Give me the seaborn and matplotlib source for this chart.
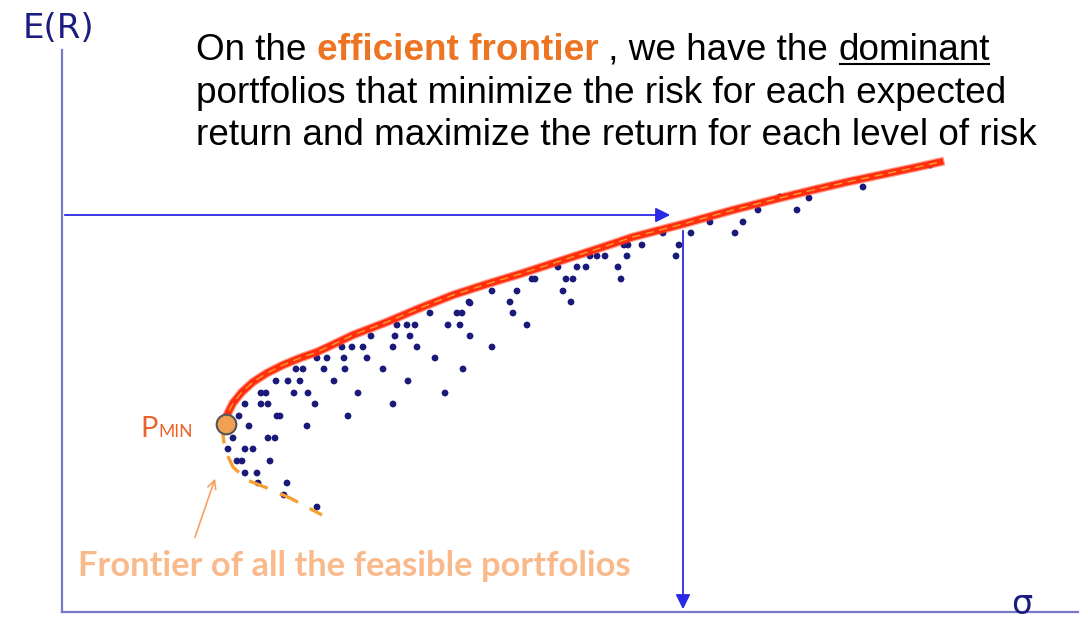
import numpy as np
import pandas as pd
import matplotlib
matplotlib.use("Agg")
import matplotlib.pyplot as plt
import seaborn as sns

# schematic in screen-like units (sigma to the right, E(R) on an inverted axis)
front_sigma = [226, 227, 233, 242, 253, 267, 283, 300, 317, 330, 353, 387, 420, 453,
               487, 520, 560, 600, 633, 683, 733, 780, 813, 847, 880, 913, 940]
front_ret = [424, 415, 403, 392, 382, 373, 365, 358, 352, 346, 335, 322, 308, 295,
             284, 274, 261, 248, 237, 224, 210, 198, 190, 182, 175, 168, 162]

lower_sigma = [226, 223, 225, 233, 247, 267, 290, 322]
lower_ret = [424, 435, 450, 467, 480, 488, 498, 515]

pts_sigma = [470, 457, 462, 430, 448, 460, 470, 415, 407, 397, 395, 410, 371, 417, 393,
             363, 352, 342, 435, 367, 344, 327, 317, 463, 383, 345, 324, 303, 296, 408,
             334, 300, 288, 276, 445, 358, 308, 294, 266, 261, 393, 315, 268, 261, 245,
             348, 280, 277, 239, 307, 249, 275, 268, 233, 253, 245, 228, 270, 242, 237,
             257, 245, 287, 258, 284, 317,
             797, 780, 758, 743, 735, 710, 691, 679, 676, 663, 642, 628, 624, 627, 618,
             621, 605, 597, 590, 586, 577, 573, 566, 558, 563, 571, 535, 532, 517, 510,
             513, 527, 492, 492, 469, 930, 863, 809]
pts_ret = [303, 313, 313, 313, 325, 325, 336, 325, 325, 325, 336, 336, 336, 347, 347,
           347, 347, 347, 358, 358, 358, 358, 358, 369, 369, 369, 369, 369, 369, 381,
           381, 381, 381, 381, 393, 393, 393, 393, 393, 393, 404, 404, 404, 404, 404,
           416, 416, 416, 416, 426, 426, 438, 438, 438, 449, 449, 449, 461, 461, 461,
           473, 473, 483, 483, 495, 507,
           210, 197, 210, 222, 233, 222, 233, 245, 256, 233, 245, 245, 245, 256, 267,
           279, 256, 256, 256, 267, 267, 279, 279, 267, 291, 302, 279, 279, 291, 302,
           313, 325, 291, 347, 302, 165, 187, 198]

pmin = (226, 424)
target_sigma, target_ret = 683, 215

title_lines = [
    [("On the ", "n"), ("efficient frontier", "b"), (" , we have the ", "n"), ("dominant", "u")],
    [("portfolios that minimize the risk for each expected", "n")],
    [("return and maximize the return for each level of risk", "n")],
]

W, H = 1088, 628
fig = plt.figure(figsize=(W / 100, H / 100), dpi=100)
ax = fig.add_axes([0, 0, 1, 1])
ax.set_xlim(0, W)
ax.set_ylim(H, 0)
ax.axis("off")

axis_col = "#7878c8"
ax.plot([62, 62], [50, 612], color=axis_col, lw=1.6)
ax.plot([62, 1078], [612, 612], color=axis_col, lw=1.6)

arrow_col = "#2a2ae6"
ax.annotate("", xy=(target_sigma - 10, target_ret), xytext=(62, target_ret),
            arrowprops=dict(arrowstyle="-|>", color=arrow_col, lw=1.3, mutation_scale=22))
ax.annotate("", xy=(target_sigma, 612), xytext=(target_sigma, 228),
            arrowprops=dict(arrowstyle="-|>", color=arrow_col, lw=1.3, mutation_scale=22))

pts = pd.DataFrame({"sigma": pts_sigma, "ret": pts_ret})
sns.scatterplot(data=pts, x="sigma", y="ret", ax=ax, color="#1a1a7a", s=24,
                marker="o", edgecolor="none", zorder=3)

front = pd.DataFrame({"sigma": front_sigma, "ret": front_ret})
sns.lineplot(data=front, x="sigma", y="ret", ax=ax, sort=False, color="#ff3a20",
             lw=6.5, alpha=0.5, zorder=4)
sns.lineplot(data=front, x="sigma", y="ret", ax=ax, sort=False, color="#ff2e0e",
             lw=4.8, zorder=4)
sns.lineplot(data=front, x="sigma", y="ret", ax=ax, sort=False, color="#f5a030",
             lw=1.0, dashes=(6, 4), zorder=5)
lower = pd.DataFrame({"sigma": lower_sigma, "ret": lower_ret})
ax.plot(lower["sigma"], lower["ret"], color="#f5a030", lw=2.4, dashes=(6, 4), zorder=4)

ax.scatter([pmin[0]], [pmin[1]], s=200, color="#f0a050", edgecolor="#555555", lw=1.5, zorder=6)

ax.text(140, 437, "P", fontsize=21, color="#e8642a", family="Lato", va="baseline")
ax.text(158, 437, "MIN", fontsize=12.5, color="#e8642a", family="Lato", va="baseline")

ax.annotate("", xy=(216, 476), xytext=(194, 540),
            arrowprops=dict(arrowstyle="->", color="#f8a060", lw=1.2, mutation_scale=15))
ax.text(78, 576, "Frontier of all the feasible portfolios", fontsize=24.8, color="#f9b98a",
        family="Lato", weight="bold", va="baseline")

ax.text(58, 29, "E(R)", fontsize=24.5, color="#1c1c80", ha="center", va="center",
        family="DejaVu Sans")
ax.text(1022, 604, "σ", fontsize=24, color="#1c1c80", ha="center", va="center",
        family="DejaVu Sans")

# title, piece by piece
fig.canvas.draw()
renderer = fig.canvas.get_renderer()
inv = ax.transData.inverted()
baselines = [60, 103, 145]
for line, yb in zip(title_lines, baselines):
    x = 196
    for txt, style in line:
        kw = dict(fontsize=26.6, family="Liberation Sans", va="baseline", color="black")
        if style == "b":
            kw.update(weight="bold", color="#ec7422")
        t = ax.text(x, yb, txt, **kw)
        bb = t.get_window_extent(renderer)
        x0 = inv.transform((bb.x0, bb.y0))[0]
        x1 = inv.transform((bb.x1, bb.y0))[0]
        if style == "u":
            ax.plot([x0 + 1, x1 - 1], [yb + 4, yb + 4], color="black", lw=1.5)
        x = x1

fig.savefig("out.png", dpi=100, facecolor="white")
